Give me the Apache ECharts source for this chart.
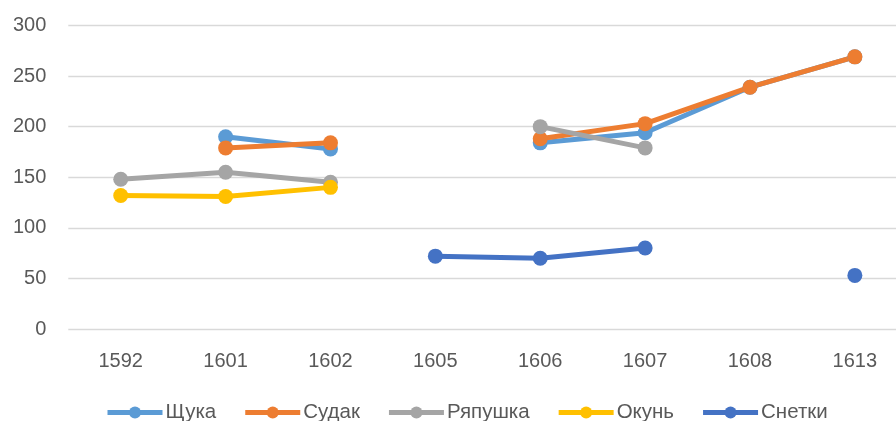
<!DOCTYPE html>
<html><head><meta charset="utf-8">
<script src="https://cdn.jsdelivr.net/npm/echarts@6/dist/echarts.min.js"></script>
<style>html,body{margin:0;padding:0;background:#fff}#c{width:896px;height:421px}</style>
</head><body><div id="c"></div>
<script>
const years = ['1592','1601','1602','1605','1606','1607','1608','1613'];
const shchuka = [null,190,178,null,184,194,239,269];
const sudak = [null,179,184,null,188,203,239,269];
const ryapushka = [148,155,145,null,200,179,null,null];
const okun = [132,131,140,null,null,null,null,null];
const snetki = [null,null,null,72,70,80,null,53];
const yTicks = [0,50,100,150,200,250,300];

const names = ['Щука','Судак','Ряпушка','Окунь','Снетки'];
const colors = ['#5B9BD5','#ED7D31','#A5A5A5','#FFC000','#4472C4'];
const datasets = [shchuka, sudak, ryapushka, okun, snetki];

const chart = echarts.init(document.getElementById('c'));
chart.setOption({
  animation:false,
  textStyle:{fontFamily:'Liberation Sans'},
  grid:{left:68.3,width:839,top:25.5,bottom:92,outerBoundsMode:'none',containLabel:false},
  legend:{
    data:names, top:397, left:100, itemWidth:55, itemHeight:15, itemGap:26.5,
    lineStyle:{width:5},
    textStyle:{fontSize:20.5,color:'#595959',fontFamily:'Liberation Sans',padding:[0,0,0,-2]}
  },
  xAxis:{
    type:'category', data:years, boundaryGap:true,
    axisLine:{show:false}, axisTick:{show:false},
    axisLabel:{fontSize:20,color:'#595959',margin:22}
  },
  yAxis:{
    type:'value', min:0, max:300, interval:50,
    axisLine:{show:false}, axisTick:{show:false},
    axisLabel:{fontSize:20,color:'#595959',margin:22,formatter:v=>yTicks.includes(v)?String(v):''},
    splitLine:{lineStyle:{color:'#D9D9D9',width:1.3}}
  },
  series: names.map((n,i)=>({
    name:n, type:'line', data:datasets[i], connectNulls:false,
    symbol:'circle', symbolSize:15, showAllSymbol:true,
    itemStyle:{color:colors[i]},
    lineStyle:{color:colors[i],width:5}
  }))
});
</script></body></html>
